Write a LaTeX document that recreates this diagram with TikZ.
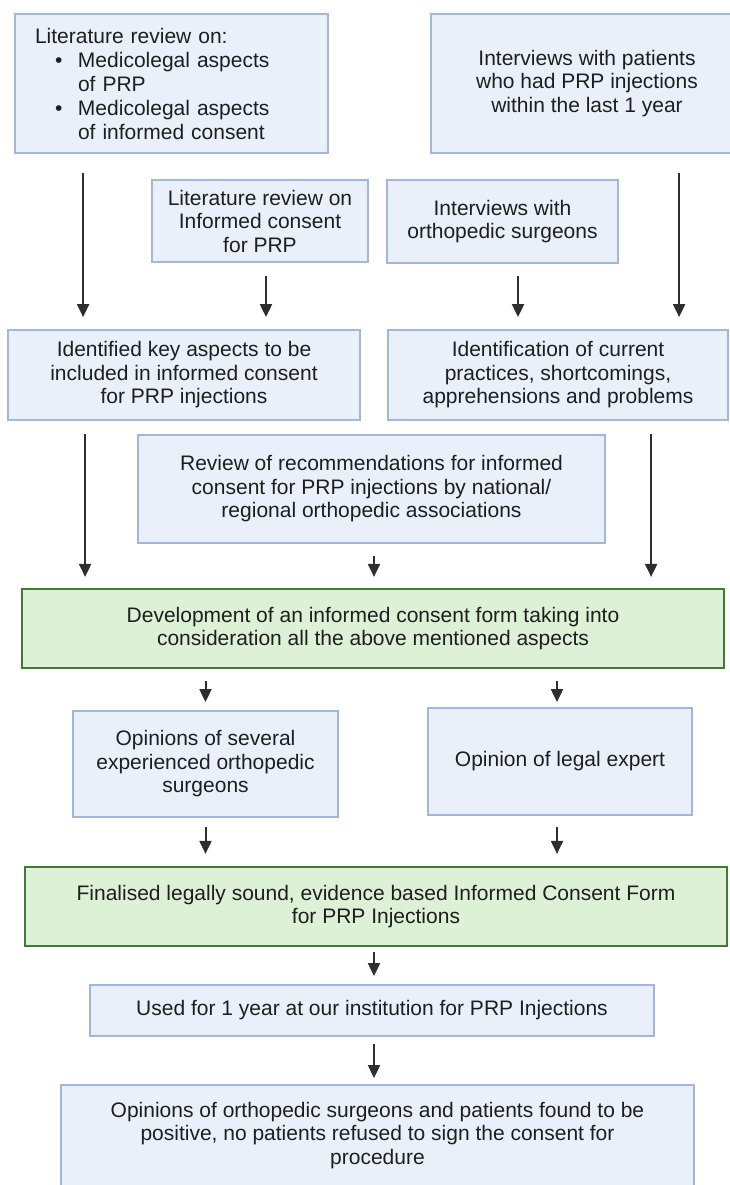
\documentclass[tikz,border=0pt]{standalone}
\usepackage{fontspec}
\setmainfont{Liberation Sans}
\usepackage{xcolor}
\usepackage{tikz}
\usetikzlibrary{arrows.meta, positioning, calc}

\definecolor{bluefill}{HTML}{EAF0FA}
\definecolor{blueline}{HTML}{A3B6DC}
\definecolor{greenfill}{HTML}{DDF1D6}
\definecolor{greenline}{HTML}{3F7B30}
\definecolor{arrowdark}{HTML}{2E2E2E}
\definecolor{textdark}{HTML}{1E1E1E}

\begin{document}
\begin{tikzpicture}[
      x=1pt, y=-1pt,
      every node/.style = {align=center, text=textdark, inner sep=0pt,
        font=\fontsize{21pt}{23.5pt}\selectfont},
      bluebox/.style = {draw=blueline, fill=bluefill, line width=1.8pt},
      greenbox/.style = {draw=greenline, fill=greenfill, line width=2.2pt},
      arr/.style = {draw=arrowdark, line width=2pt,
        -{Triangle[length=13pt, width=12pt]}}
    ]
      \useasboundingbox (0,0) rectangle (729,1185);

      % sources
      \node[bluebox, minimum height=139pt, text width=273pt, inner xsep=20pt,
        align=left, font=\fontsize{21pt}{24pt}\selectfont] (litmed) at (171.5,83.5)
        {Literature review on:\\
         \hspace*{20pt}\makebox[23pt][l]{\textbullet}Medicolegal aspects\\
         \hspace*{43pt}of PRP\\
         \hspace*{20pt}\makebox[23pt][l]{\textbullet}Medicolegal aspects\\
         \hspace*{43pt}of informed consent};
      \node[bluebox, minimum width=312pt, minimum height=139pt] (patients) at (587,83.5)
        {Interviews with patients\\who had PRP injections\\within the last 1 year};
      \node[bluebox, minimum width=216pt, minimum height=82pt] (litprp) at (260,221)
        {Literature review on\\Informed consent\\for PRP};
      \node[bluebox, minimum width=231pt, minimum height=83pt] (surgeons) at (502.5,221.5)
        {Interviews with\\orthopedic surgeons};

      % findings
      \node[bluebox, minimum width=352pt, minimum height=90pt] (keyasp) at (184,375)
        {Identified key aspects to be\\included in informed consent\\for PRP injections};
      \node[bluebox, minimum width=340pt, minimum height=90pt] (practice) at (558,375)
        {Identification of current\\practices, shortcomings,\\apprehensions and problems};
      \node[bluebox, minimum width=467pt, minimum height=108pt] (recomm) at (371.5,489)
        {Review of recommendations for informed\\consent for PRP injections by national/\\regional orthopedic associations};

      % form
      \node[greenbox, minimum width=702pt, minimum height=79pt] (develop) at (373,628.5)
        {Development of an informed consent form taking into\\consideration all the above mentioned aspects};
      \node[bluebox, minimum width=265pt, minimum height=106pt] (opinsurg) at (205.5,764)
        {Opinions of several\\experienced orthopedic\\surgeons};
      \node[bluebox, minimum width=264pt, minimum height=107pt] (legal) at (560,761.5)
        {Opinion of legal expert};
      \node[greenbox, minimum width=702pt, minimum height=79pt] (final) at (376,906.5)
        {Finalised legally sound, evidence based Informed Consent Form\\for PRP Injections};
      \node[bluebox, minimum width=564pt, minimum height=51pt] (used) at (372,1010.5)
        {Used for 1 year at our institution for PRP Injections};
      \node[bluebox, minimum width=633pt, minimum height=101pt] (outcome) at (377.5,1135.5)
        {Opinions of orthopedic surgeons and patients found to be\\positive, no patients refused to sign the consent for\\procedure};

      % arrows
      \draw[arr, shorten <=19pt, shorten >=12pt] ([xshift=69pt]litmed.south west) -- ([xshift=69pt]litmed.south west |- keyasp.north);
      \draw[arr, shorten <=13pt, shorten >=12pt] ([xshift=6pt]litprp.south) -- ([xshift=6pt]litprp.south |- keyasp.north);
      \draw[arr, shorten <=12pt, shorten >=12pt] ([xshift=15.5pt]surgeons.south) -- ([xshift=15.5pt]surgeons.south |- practice.north);
      \draw[arr, shorten <=19pt, shorten >=12pt] ([xshift=249pt]patients.south west) -- ([xshift=249pt]patients.south west |- practice.north);
      \draw[arr, shorten <=13pt, shorten >=11pt] ([xshift=78pt]keyasp.south west) -- ([xshift=78pt]keyasp.south west |- develop.north);
      \draw[arr, shorten <=12pt, shorten >=11pt] ([xshift=2.5pt]recomm.south) -- ([xshift=2.5pt]recomm.south |- develop.north);
      \draw[arr, shorten <=13pt, shorten >=11pt] ([xshift=264pt]practice.south west) -- ([xshift=264pt]practice.south west |- develop.north);
      \draw[arr, shorten <=12pt, shorten >=8pt] (opinsurg.north |- develop.south) -- (opinsurg.north);
      \draw[arr, shorten <=12pt, shorten >=5pt] ([xshift=-3pt]legal.north |- develop.south) -- ([xshift=-3pt]legal.north);
      \draw[arr, shorten <=9pt, shorten >=12pt] (opinsurg.south) -- (opinsurg.south |- final.north);
      \draw[arr, shorten <=11pt, shorten >=12pt] ([xshift=-3pt]legal.south) -- ([xshift=-3pt]legal.south |- final.north);
      \draw[arr, shorten <=5pt, shorten >=8pt] ([xshift=-2pt]final.south) -- ([xshift=-2pt]final.south |- used.north);
      \draw[arr, shorten <=7pt, shorten >=6pt] ([xshift=2pt]used.south) -- ([xshift=2pt]used.south |- outcome.north);
    \end{tikzpicture}
\end{document}
